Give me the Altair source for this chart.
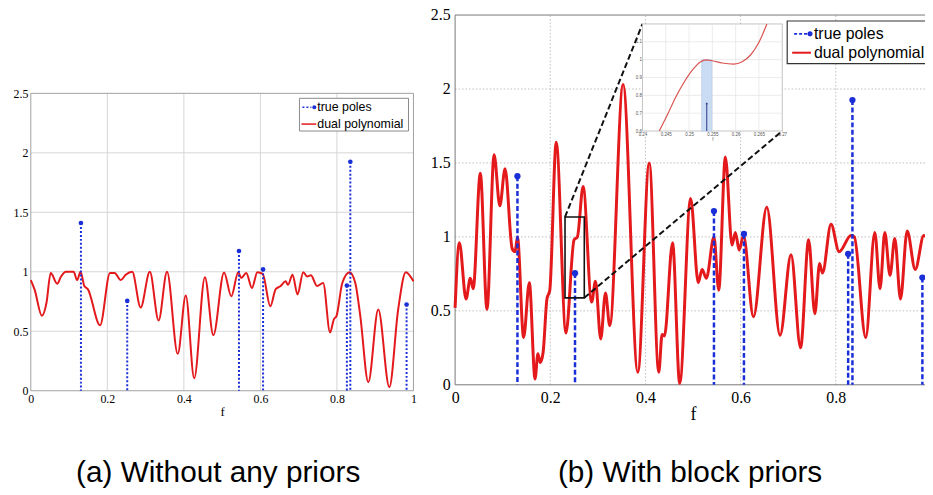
import altair as alt
import pandas as pd

# ---------------- data ----------------
left_f = [0, 0.010, 0.029, 0.041, 0.052, 0.069, 0.079, 0.092, 0.112, 0.121, 0.130, 0.140, 0.149,
          0.181, 0.207, 0.219, 0.235, 0.248, 0.265, 0.287, 0.311, 0.334, 0.356, 0.384, 0.405,
          0.427, 0.455, 0.477, 0.505, 0.524, 0.542, 0.550, 0.563, 0.578, 0.592, 0.606, 0.626,
          0.640, 0.652, 0.666, 0.672, 0.684, 0.697, 0.712, 0.722, 0.732, 0.748, 0.764, 0.782,
          0.792, 0.799, 0.814, 0.833, 0.848, 0.861, 0.882, 0.908, 0.937, 0.960, 0.980, 1.0]
left_v = [0.93, 0.85, 0.63, 0.74, 0.99, 0.90, 0.96, 1.0, 1.0, 0.93, 1.0, 0.88, 0.855,
          0.55, 0.99, 0.99, 0.93, 0.975, 1.0, 0.70, 1.0, 0.59, 1.0, 0.31, 0.80,
          0.105, 0.955, 0.467, 0.995, 0.794, 0.997, 0.947, 0.99, 0.864, 0.997, 0.983, 0.71,
          0.855, 0.878, 0.92, 0.89, 0.975, 0.81, 0.997, 0.96, 0.97, 0.88, 0.906, 0.49,
          0.60, 0.63, 0.906, 0.997, 0.906, 0.63, 0.072, 0.683, 0.03, 0.683, 0.997, 0.92]

right_f = [0, 0.009, 0.023, 0.032, 0.038, 0.053, 0.067, 0.082, 0.094, 0.105, 0.120, 0.126, 0.131,
           0.144, 0.156, 0.168, 0.174, 0.179, 0.185, 0.193, 0.199, 0.2125, 0.233, 0.250, 0.257,
           0.269, 0.287, 0.295, 0.306, 0.316, 0.325, 0.353, 0.384, 0.408, 0.428, 0.435, 0.440,
           0.457, 0.472, 0.495, 0.511, 0.519, 0.528, 0.544, 0.554, 0.568, 0.582, 0.589, 0.597,
           0.606, 0.627, 0.655, 0.683, 0.706, 0.726, 0.743, 0.756, 0.766, 0.772, 0.790, 0.807,
           0.832, 0.839, 0.863, 0.882, 0.893, 0.903, 0.914, 0.924, 0.936, 0.950, 0.967, 0.985, 1.0]
right_v = [0.52, 0.96, 0.58, 0.72, 0.65, 1.43, 0.51, 1.555, 1.21, 1.46, 0.92, 0.90, 1.0,
           0.32, 0.69, 0.04, 0.21, 0.15, 0.22, 0.58, 0.64, 1.64, 0.35, 0.98, 1.0,
           1.34, 0.56, 0.70, 0.31, 0.62, 0.40, 2.03, 0.085, 1.50, 0.085, 0.34, 0.33,
           0.96, 0.01, 1.26, 0.69, 0.78, 0.72, 1.0, 0.64, 1.54, 0.945, 1.03, 0.91,
           1.01, 0.46, 1.20, 0.335, 0.88, 0.25, 0.98, 0.48, 0.82, 0.755, 1.085, 0.90,
           1.01, 1.0, 0.32, 1.03, 0.65, 1.03, 0.74, 0.99, 0.58, 1.04, 0.78, 1.01, 0.95]

pole_f = [0.131, 0.252, 0.544, 0.607, 0.826, 0.835, 0.982]
pole_v = [1.41, 0.755, 1.175, 1.02, 0.885, 1.925, 0.725]

inset_f = [0.2436, 0.2454, 0.2471, 0.2489, 0.2507, 0.2525, 0.2536, 0.2550, 0.2571,
           0.2596, 0.2614, 0.2632, 0.2650, 0.2667]
inset_v = [0.60, 0.694, 0.788, 0.872, 0.941, 0.988, 0.999, 0.994, 0.981,
           0.975, 0.988, 1.026, 1.097, 1.20]
inset_band_f = [0.2527, 0.2549]
inset_band_v = [0.6, 1.0]
inset_pole_f = [0.2538]
inset_pole_v = [0.756]

zoom_box_f = [0.231, 0.2715]
zoom_box_v = [0.588, 1.135]

main_x_ticks = [0, 0.2, 0.4, 0.6, 0.8, 1]
main_y_ticks = [0, 0.5, 1, 1.5, 2, 2.5]
inset_x_ticks = [0.24, 0.245, 0.25, 0.255, 0.26, 0.265, 0.27]
inset_y_ticks = [0.6, 0.7, 0.8, 0.9, 1.0, 1.1]

legend_labels = ["true poles", "dual polynomial"]
captions = ["(a) Without any priors", "(b) With block priors"]

# ---------------- layout / style ----------------
W, H = 925, 480
P = {
    "a": dict(xd=[0, 1], xr=[23, 409], yd=[0, 2.5], yr=[384, 84]),
    "b": dict(xd=[0, 1], xr=[451, 931], yd=[0, 2.5], yr=[378, 5]),
    "i": dict(xd=[0.24, 0.27], xr=[640, 781], yd=[0.6, 1.2], yr=[122, 14]),
}
RED = "#e3191c"
BLUE = "#1b2fd8"
SERIF = "Liberation Serif"
SANS = "Liberation Sans"

one = pd.DataFrame({"k": [0]})


def sc(d, r):
    return alt.Scale(domain=d, range=r, nice=False, zero=False)


def X(p, field=None, datum=None, axis=None):
    s = sc(P[p]["xd"], P[p]["xr"])
    if field is not None:
        return alt.X(field, type="quantitative", scale=s, axis=axis)
    return alt.X(datum=datum, type="quantitative", scale=s, axis=axis)


def Y(p, field=None, datum=None, axis=None):
    s = sc(P[p]["yd"], P[p]["yr"])
    if field is not None:
        return alt.Y(field, type="quantitative", scale=s, axis=axis)
    return alt.Y(datum=datum, type="quantitative", scale=s, axis=axis)


def grid_layers(p, xt, yt, color, dash, width):
    kw = dict(color=color, strokeWidth=width)
    if dash:
        kw["strokeDash"] = dash
    xg = alt.Chart(pd.DataFrame({"f": xt[1:-1]})).mark_rule(**kw).encode(
        x=X(p, "f"), y=Y(p, datum=yt[0]), y2=alt.datum(yt[-1]))
    yg = alt.Chart(pd.DataFrame({"v": yt[1:-1]})).mark_rule(**kw).encode(
        y=Y(p, "v"), x=X(p, datum=xt[0]), x2=alt.datum(xt[-1]))
    return [xg, yg]


def frame_layer(p, xt, yt, xlab, color, lab_size, title_size, xpad, ypad, tpad, swidth=1):
    xaxis = alt.Axis(values=xlab, format="~g", orient="bottom", offset=-(H - P[p]["yr"][0]),
                     domain=False, ticks=False, grid=False, labelFont=SERIF,
                     labelFontSize=lab_size, labelColor="black", labelPadding=xpad,
                     labelFlush=False, labelOverlap=False, labelBound=False,
                     title="f", titleFont=SERIF, titleFontSize=title_size,
                     titleFontWeight="normal", titleColor="black", titlePadding=tpad)
    yaxis = alt.Axis(values=yt, format="~g", orient="left", offset=-P[p]["xr"][0],
                     domain=False, ticks=False, grid=False, labelFont=SERIF,
                     labelFontSize=lab_size, labelColor="black", labelPadding=ypad,
                     labelFlush=False, labelOverlap=False, labelBound=False, title=None)
    df = pd.DataFrame({"f0": [xt[0]], "f1": [xt[-1]], "v0": [yt[0]], "v1": [yt[-1]]})
    return alt.Chart(df).mark_rect(filled=False, stroke=color, strokeWidth=swidth).encode(
        x=X(p, "f0", axis=xaxis), x2="f1", y=Y(p, "v0", axis=yaxis), y2="v1")


def hseg(x1, x2, y, color, width, dash=None):
    kw = dict(color=color, strokeWidth=width)
    if dash:
        kw["strokeDash"] = dash
    return alt.Chart(one).mark_rule(**kw).encode(x=alt.value(x1), x2=alt.value(x2), y=alt.value(y))


def dot(x, y, size):
    return alt.Chart(one).mark_circle(size=size, color=BLUE, opacity=1).encode(
        x=alt.value(x), y=alt.value(y))


def label(x, y, txt, size, font=SANS, align="left"):
    return alt.Chart(one).mark_text(text=txt, align=align, baseline="middle", font=font,
                                    fontSize=size, color="black").encode(
        x=alt.value(x), y=alt.value(y))


def box(x1, x2, y1, y2, stroke, width=1):
    return alt.Chart(one).mark_rect(fill="white", stroke=stroke, strokeWidth=width).encode(
        x=alt.value(x1), x2=alt.value(x2), y=alt.value(y1), y2=alt.value(y2))


left_df = pd.DataFrame({"f": left_f, "v": left_v})
right_df = pd.DataFrame({"f": right_f, "v": right_v})
poles_df = pd.DataFrame({"f": pole_f, "v": pole_v})

layers = []

# ---------- panel (a) ----------
layers += grid_layers("a", main_x_ticks, main_y_ticks, "#d6d6d6", None, 1)
layers.append(frame_layer("a", main_x_ticks, main_y_ticks, main_x_ticks, "#a0a0a0", 12, 13, 3, 3, 1))
layers.append(alt.Chart(left_df).mark_line(color=RED, strokeWidth=2, interpolate="monotone").encode(
    x=X("a", "f"), y=Y("a", "v")))
layers.append(alt.Chart(poles_df).mark_rule(color=BLUE, strokeWidth=2, strokeDash=[2, 2]).encode(
    x=X("a", "f"), y=Y("a", "v"), y2=alt.datum(0)))
layers.append(alt.Chart(poles_df).mark_circle(color=BLUE, size=22, opacity=1).encode(
    x=X("a", "f"), y=Y("a", "v")))
# legend (a)
layers.append(box(294, 404, 89, 122, "#8a8a8a"))
layers.append(hseg(297, 306, 98, BLUE, 1.5, [2, 2]))
layers.append(dot(309, 98, 16))
layers.append(label(312, 98, legend_labels[0], 12.5))
layers.append(hseg(296, 311, 115, RED, 1.5))
layers.append(label(312, 115, legend_labels[1], 12.5))

# ---------- panel (b) ----------
layers += grid_layers("b", main_x_ticks, main_y_ticks, "#bdbdbd", [1.5, 2], 1)
layers.append(frame_layer("b", main_x_ticks, main_y_ticks, main_x_ticks[:-1], "#777777",
                          16, 18, 5, 5, 0))
layers.append(alt.Chart(right_df).mark_line(color=RED, strokeWidth=3, interpolate="monotone").encode(
    x=X("b", "f"), y=Y("b", "v")))
layers.append(alt.Chart(poles_df).mark_rule(color=BLUE, strokeWidth=2.5, strokeDash=[5, 2.5]).encode(
    x=X("b", "f"), y=Y("b", "v"), y2=alt.datum(0)))
layers.append(alt.Chart(poles_df).mark_circle(color=BLUE, size=40, opacity=1).encode(
    x=X("b", "f"), y=Y("b", "v")))

# zoom rectangle and connectors
zb = pd.DataFrame({"f0": [zoom_box_f[0]], "f1": [zoom_box_f[1]],
                   "v0": [zoom_box_v[0]], "v1": [zoom_box_v[1]]})
layers.append(alt.Chart(zb).mark_rect(filled=False, stroke="#111111", strokeWidth=1.6).encode(
    x=X("b", "f0"), x2="f1", y=Y("b", "v0"), y2="v1"))
c1 = pd.DataFrame({"f": [zoom_box_f[0]], "v": [zoom_box_v[1]]})
c2 = pd.DataFrame({"f": [zoom_box_f[1]], "v": [zoom_box_v[0]]})
layers.append(alt.Chart(c1).mark_rule(color="#111111", strokeWidth=2, strokeDash=[6, 3]).encode(
    x=X("b", "f"), y=Y("b", "v"), x2=alt.value(P["i"]["xr"][0]), y2=alt.value(P["i"]["yr"][1])))
layers.append(alt.Chart(c2).mark_rule(color="#111111", strokeWidth=2, strokeDash=[6, 3]).encode(
    x=X("b", "f"), y=Y("b", "v"), x2=alt.value(P["i"]["xr"][1]), y2=alt.value(P["i"]["yr"][0])))

# ---------- inset ----------
inset_x_axis = alt.Axis(values=inset_x_ticks, format="~g", orient="bottom",
                        offset=-(H - P["i"]["yr"][0]), domain=False, ticks=False, grid=False,
                        labelFont=SANS, labelFontSize=4.5, labelColor="#555555", labelPadding=1,
                        labelFlush=False, labelOverlap=False, labelBound=False,
                        title="f", titleFont=SANS, titleFontSize=4.5, titleColor="#555555",
                        titleFontWeight="normal", titlePadding=0)
inset_y_axis = alt.Axis(values=inset_y_ticks, format="~g", orient="left", offset=-P["i"]["xr"][0],
                        domain=False, ticks=False, grid=False, labelFont=SANS, labelFontSize=4.5,
                        labelColor="#555555", labelPadding=1, labelFlush=False,
                        labelOverlap=False, labelBound=False, title=None)
ib = pd.DataFrame({"f0": [inset_x_ticks[0]], "f1": [inset_x_ticks[-1]],
                   "v0": [P["i"]["yd"][0]], "v1": [P["i"]["yd"][1]]})
layers.append(alt.Chart(ib).mark_rect(fill="white", stroke="#b5b5b5", strokeWidth=0.8).encode(
    x=X("i", "f0", axis=inset_x_axis), x2="f1", y=Y("i", "v0", axis=inset_y_axis), y2="v1"))
layers.append(alt.Chart(pd.DataFrame({"f": inset_x_ticks[1:-1]})).mark_rule(
    color="#e3e3e3", strokeWidth=0.7).encode(
    x=X("i", "f"), y=Y("i", datum=P["i"]["yd"][0]), y2=alt.datum(P["i"]["yd"][1])))
layers.append(alt.Chart(pd.DataFrame({"v": inset_y_ticks[1:]})).mark_rule(
    color="#e3e3e3", strokeWidth=0.7).encode(
    y=Y("i", "v"), x=X("i", datum=inset_x_ticks[0]), x2=alt.datum(inset_x_ticks[-1])))
band = pd.DataFrame({"f0": [inset_band_f[0]], "f1": [inset_band_f[1]],
                     "v0": [inset_band_v[0]], "v1": [inset_band_v[1]]})
layers.append(alt.Chart(band).mark_rect(fill="#cadcf3", stroke="#a9c3e6", strokeWidth=0.5).encode(
    x=X("i", "f0"), x2="f1", y=Y("i", "v0"), y2="v1"))
layers.append(alt.Chart(pd.DataFrame({"f": inset_f, "v": inset_v})).mark_line(
    color="#d9534f", strokeWidth=1.2, interpolate="monotone").encode(x=X("i", "f"), y=Y("i", "v")))
ip = pd.DataFrame({"f": inset_pole_f, "v": inset_pole_v})
layers.append(alt.Chart(ip).mark_rule(color="#2a3a8c", strokeWidth=1).encode(
    x=X("i", "f"), y=Y("i", "v"), y2=alt.datum(P["i"]["yd"][0])))
layers.append(alt.Chart(ip).mark_point(shape="triangle-up", filled=True, size=6,
                                       color="#2a3a8c", opacity=1).encode(
    x=X("i", "f"), y=Y("i", "v")))

# legend (b)
layers.append(box(786, 940, 11, 54, "#333333", 1.2))
layers.append(hseg(793, 806, 24, BLUE, 2, [3, 2]))
layers.append(dot(809, 24, 26))
layers.append(label(813, 24, legend_labels[0], 16))
layers.append(hseg(791, 810, 43, RED, 2))
layers.append(label(813, 43, legend_labels[1], 16))

# captions
layers.append(alt.Chart(one).mark_text(text=captions[0], align="center", baseline="alphabetic",
                                       font=SANS, fontSize=30, color="black").encode(
    x=alt.value(212), y=alt.value(476)))
layers.append(alt.Chart(one).mark_text(text=captions[1], align="center", baseline="alphabetic",
                                       font=SANS, fontSize=30, color="black").encode(
    x=alt.value(688), y=alt.value(476)))

chart = alt.layer(*layers).resolve_scale(x="independent", y="independent").properties(
    width=W, height=H, autosize=alt.AutoSizeParams(type="none"), padding=0, background="white"
).configure_view(strokeWidth=0)

chart.save("out.html", embed_options={"renderer": "svg", "actions": False})
